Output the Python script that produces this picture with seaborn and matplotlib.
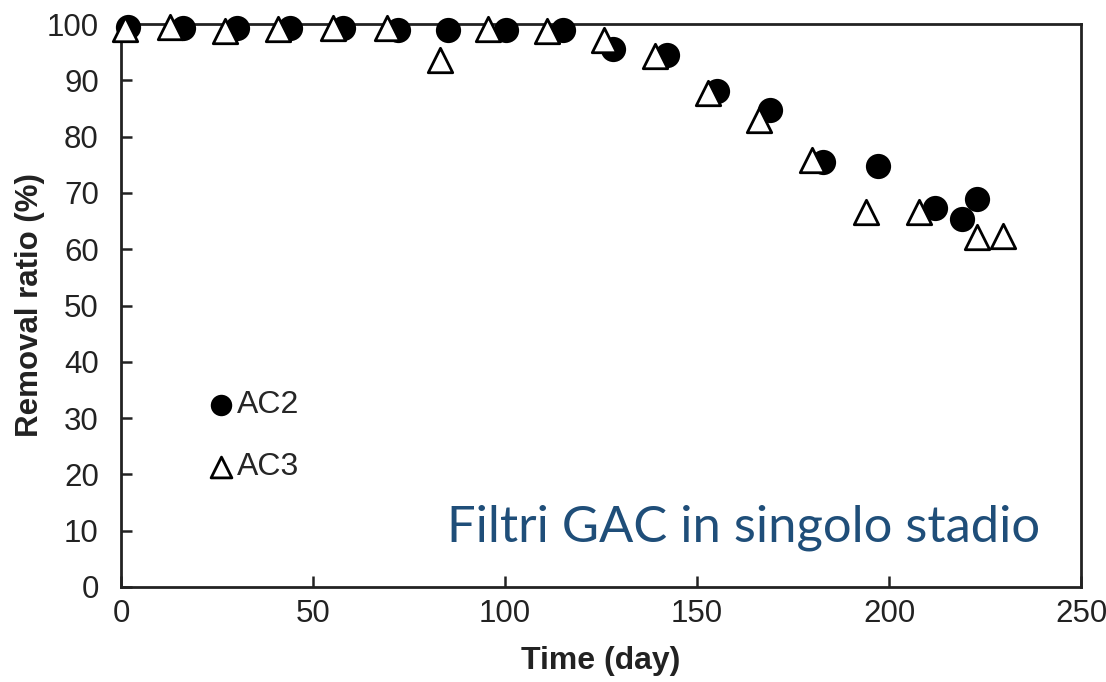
import matplotlib
matplotlib.use("Agg")
import matplotlib.pyplot as plt
import seaborn as sns
import pandas as pd

# values
ac2_day = [1.8, 16.1, 30.2, 44.0, 57.8, 72.1, 85.2, 100.3, 115.1, 128.1, 142.2,
           155.2, 169.0, 182.8, 197.1, 212.0, 219.0, 222.9]
ac2_removal = [99.4, 99.3, 99.3, 99.3, 99.3, 99.0, 99.0, 99.0, 99.0, 95.6, 94.5,
               88.1, 84.7, 75.5, 74.8, 67.3, 65.3, 68.9]
ac3_day = [1.0, 12.8, 27.1, 40.9, 55.2, 69.3, 83.1, 95.6, 110.9, 125.8, 139.1,
           152.9, 166.1, 180.0, 194.0, 207.8, 222.9, 229.7]
ac3_removal = [99.1, 99.4, 98.8, 99.1, 99.3, 99.3, 93.6, 99.2, 98.8, 97.2, 94.3,
               87.7, 82.9, 75.8, 66.6, 66.6, 62.2, 62.3]

x_ticks = [0, 50, 100, 150, 200, 250]
y_ticks = [0, 10, 20, 30, 40, 50, 60, 70, 80, 90, 100]

ac2 = pd.DataFrame({"day": ac2_day, "removal": ac2_removal})
ac3 = pd.DataFrame({"day": ac3_day, "removal": ac3_removal})

sns.set_style("ticks")
plt.rcParams['font.family'] = ['Liberation Sans', 'DejaVu Sans']

fig = plt.figure(figsize=(11.06, 6.82), dpi=100)
ax = fig.add_axes([0.1094, 0.1393, 0.868, 0.8255])

sns.scatterplot(data=ac2, x="day", y="removal", ax=ax, marker="o", s=330,
                color="black", edgecolor="black", linewidth=0, label="AC2",
                zorder=3, clip_on=False)
sns.scatterplot(data=ac3, x="day", y="removal", ax=ax, marker="^", s=310,
                facecolor="white", edgecolor="black", linewidth=2,
                label="AC3", zorder=4, clip_on=False)

ax.set_xlim(0, 250)
ax.set_ylim(0, 100)
ax.set_xticks(x_ticks)
ax.set_yticks(y_ticks)
ax.tick_params(direction="in", length=8, width=1.8, labelsize=22.5,
               colors="#222222")
ax.tick_params(axis="x", pad=9)
ax.tick_params(axis="y", pad=16)
for sp in ax.spines.values():
    sp.set_visible(True)
    sp.set_linewidth(2)
    sp.set_color("#222222")

ax.set_xlabel("Time (day)", fontsize=23, fontweight="bold", labelpad=12,
              color="#222222")
ax.set_ylabel("Removal ratio (%)", fontsize=22.5, fontweight="bold",
              labelpad=1, color="#222222")

ax.legend(loc="center left", bbox_to_anchor=(0.048, 0.268), frameon=False,
          fontsize=23, markerscale=0.85, handletextpad=-0.3,
          labelspacing=1.0, handlelength=1.6)

ax.text(0.957, 0.106, "Filtri GAC in singolo stadio", transform=ax.transAxes,
        ha="right", va="center", fontsize=36.5, color="#1f4e79", family="Lato")

fig.savefig("out.png", dpi=100)
